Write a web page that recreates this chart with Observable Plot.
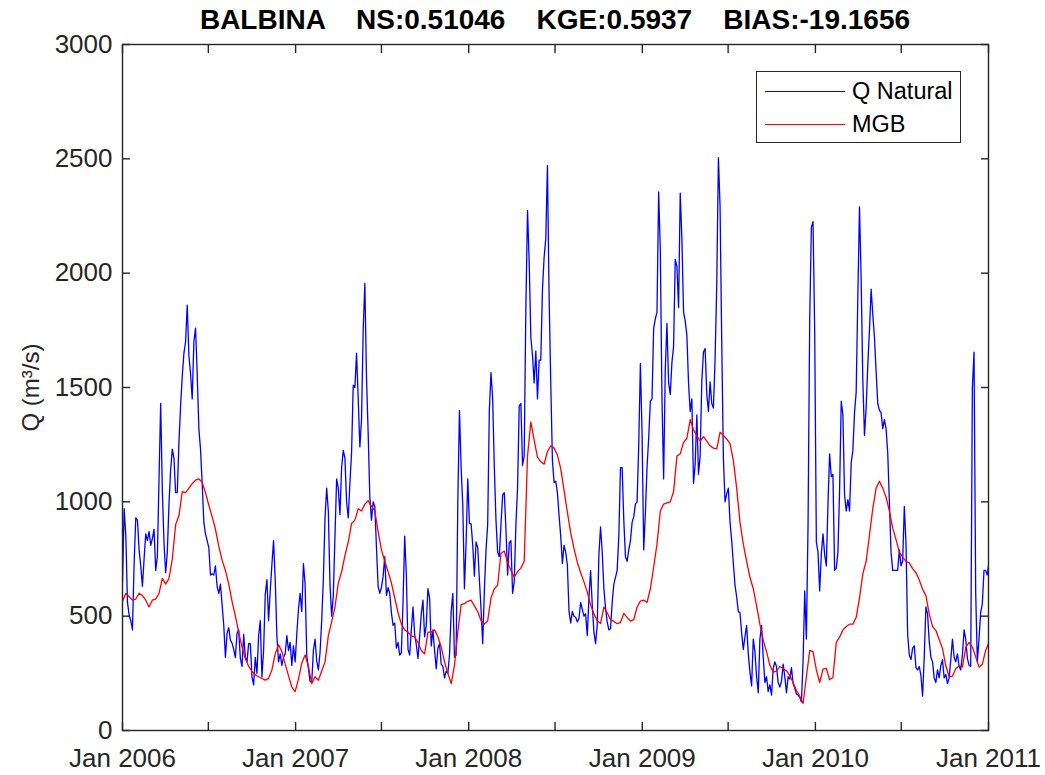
<!DOCTYPE html>
<html>
<head>
<meta charset="utf-8">
<script src="https://cdn.jsdelivr.net/npm/d3@7"></script>
<script src="https://cdn.jsdelivr.net/npm/@observablehq/plot@0.6"></script>
<style>
  html, body { margin: 0; padding: 0; background: #ffffff; }
  #wrap { position: relative; width: 1045px; height: 775px; font-family: "Liberation Sans", Arial, sans-serif; color: #262626; }
  #title { position: absolute; left: 122px; width: 866px; top: 4px; text-align: center; font-weight: bold; font-size: 28px; color: #000; white-space: pre; line-height: 32px; }
  #legend { position: absolute; left: 756px; top: 71px; width: 205px; height: 72px; border: 1px solid #262626; background: #fff; box-sizing: border-box; }
  .row { position: absolute; left: 8px; height: 30px; display: flex; align-items: center; font-size: 23.5px; color: #000; }
  .sw { width: 80px; height: 0; border-top: 1.4px solid; margin-right: 7px; }
</style>
</head>
<body>
<div id="wrap">
  <div id="chart"></div>
  <div id="title"></div>
  <div id="legend"></div>
</div>
<script>
// ---- data ----
const startDate = "2006-01-01";
const stepDaysQ = 3.5;   // Q Natural sampled every half week
const stepDaysM = 7;     // MGB sampled weekly
const seriesNames = ["Q Natural", "MGB"];
const seriesColors = ["#0000ff", "#ff0000"];
const titleText = "BALBINA    NS:0.51046    KGE:0.5937    BIAS:-19.1656";
const yLabel = "Q (m³/s)";
const yTicks = [0, 500, 1000, 1500, 2000, 2500, 3000];
const xTickDates = ["2006-01-01","2006-07-01","2007-01-01","2007-07-01","2008-01-01","2008-07-01","2009-01-01","2009-07-01","2010-01-01","2010-07-01","2011-01-01"];
const xTickLabels = ["Jan 2006","","Jan 2007","","Jan 2008","","Jan 2009","","Jan 2010","","Jan 2011"];

const qNatural = [
  650, 970, 850, 560, 505, 480, 440, 730, 930, 920,
  790, 720, 630, 750, 860, 830, 870, 810, 840, 880,
  700, 760, 1100, 1430, 1050, 820, 690, 780, 990, 1140,
  1230, 1190, 1040, 1040, 1260, 1420, 1550, 1650, 1700, 1860,
  1640, 1560, 1450, 1700, 1760, 1560, 1320, 1230, 1080, 910,
  860, 830, 800, 680, 685, 680, 720, 630, 600, 640,
  550, 460, 320, 425, 450, 395, 382, 355, 320, 425,
  440, 315, 280, 420, 320, 300, 380, 380, 235, 200,
  320, 250, 415, 480, 235, 350, 595, 660, 480, 610,
  725, 830, 660, 415, 300, 335, 285, 320, 335, 415,
  350, 385, 285, 370, 300, 420, 530, 600, 520, 730,
  640, 330, 270, 215, 210, 350, 400, 305, 265, 340,
  480, 660, 930, 1060, 960, 640, 500, 590, 850, 1100,
  1060, 945, 1150, 1225, 1190, 1000, 930, 1080, 1215, 1510,
  1500, 1650, 1450, 1240, 1360, 1750, 1955, 1540, 1300, 1020,
  920, 1000, 980, 800, 630, 600, 625, 675, 760, 590,
  625, 600, 515, 460, 470, 360, 385, 330, 340, 560,
  850, 680, 355, 330, 440, 540, 420, 375, 315, 410,
  510, 570, 410, 460, 620, 580, 370, 440, 350, 270,
  360, 380, 290, 280, 230, 260, 250, 330, 520, 600,
  320, 330, 1000, 1400, 1150, 985, 620, 820, 1100, 905,
  905, 810, 675, 825, 800, 660, 530, 380, 610, 790,
  900, 1400, 1565, 1450, 1150, 920, 780, 760, 900, 1030,
  1040, 880, 680, 820, 830, 600, 650, 900, 1060, 1420,
  1430, 1160, 1200, 1850, 2275, 2050, 1720, 1640, 1520, 1660,
  1450, 1620, 1620, 1930, 2070, 2150, 2470, 1900, 1520, 1180,
  1085, 1090, 1040, 940, 850, 730, 810, 780, 725, 520,
  470, 520, 500, 495, 475, 490, 560, 530, 500, 510,
  415, 580, 700, 550, 430, 380, 460, 770, 890, 780,
  620, 535, 475, 440, 445, 560, 640, 670, 700, 850,
  1150, 1150, 920, 760, 740, 790, 830, 910, 935, 990,
  1000, 1250, 1605, 1300, 790, 950, 1150, 1280, 1440, 1450,
  1760, 1800, 1830, 2355, 2100, 1450, 1100, 1580, 1780, 1520,
  1470, 1610, 1680, 2060, 2030, 1850, 2350, 2150, 1830, 1790,
  1730, 1520, 1395, 1450, 1080, 1165, 1380, 1120, 1200, 1530,
  1655, 1670, 1470, 1395, 1525, 1430, 1410, 1625, 1950, 2505,
  2290, 1700, 1190, 1000, 1035, 1060, 910, 830, 730, 635,
  585, 520, 515, 425, 355, 410, 460, 335, 255, 195,
  400, 345, 235, 165, 400, 460, 320, 210, 235, 170,
  200, 155, 270, 300, 280, 210, 190, 215, 290, 235,
  165, 235, 225, 275, 205, 185, 160, 155, 145, 125,
  300, 610, 400, 900, 1800, 2200, 2225, 1750, 825, 780,
  610, 770, 860, 770, 720, 990, 1210, 1110, 1120, 700,
  710, 780, 1050, 1440, 1380, 1030, 960, 1010, 960, 1170,
  1225, 1390, 1480, 1900, 2290, 1970, 1530, 1290, 1410, 1600,
  1750, 1930, 1820, 1720, 1570, 1430, 1400, 1390, 1320, 1360,
  1320, 1215, 1000, 780, 700, 700, 700, 700, 790, 720,
  740, 980, 820, 420, 330, 310, 360, 370, 275, 265,
  280, 240, 150, 320, 540, 510, 390, 320, 300, 230,
  210, 265, 230, 285, 310, 230, 245, 205, 230, 310,
  400, 320, 300, 335, 280, 265, 330, 440, 400, 315,
  285, 280, 1500, 1655, 600, 300, 400, 515, 555, 700,
  700, 680, 740
];

const mgb = [
  565, 600, 585, 570, 575, 600, 590, 570, 540, 570,
  575, 600, 665, 640, 665, 750, 900, 940, 1045, 1040,
  1060, 1080, 1095, 1100, 1085, 1040, 985, 935, 880, 805,
  745, 700, 640, 565, 500, 430, 365, 315, 280, 258,
  243, 235, 228, 220, 228, 265, 335, 375, 345, 290,
  240, 190,
  170, 225, 295, 330, 280, 205, 235, 220, 260, 300,
  415, 475, 540, 645, 695, 765, 825, 905, 920, 970,
  960, 990, 1005, 980, 960, 870, 790, 740, 695, 645,
  580, 515, 465, 440, 430, 415, 408, 385, 350, 335,
  430, 430, 440, 410, 365, 300, 250, 205, 285, 430,
  550, 555,
  565, 570, 545, 520, 480, 465, 480, 580, 620, 635,
  775, 785, 735, 700, 670, 695, 710, 740, 1200, 1350,
  1270, 1195, 1175, 1165, 1220, 1245, 1235, 1205, 1145, 1050,
  955, 865, 795, 735, 690, 650, 605, 550, 510, 480,
  468, 540, 515, 485, 477, 467, 472, 512, 495, 478,
  485, 540,
  566, 570, 560, 620, 715, 815, 960, 990, 995, 1000,
  1045, 1200, 1210, 1260, 1278, 1360, 1315, 1290, 1265, 1285,
  1265, 1245, 1235, 1232, 1305, 1290, 1275, 1255, 1180, 1060,
  910, 815, 740, 670, 620, 545, 465, 395, 345, 285,
  255, 260, 280, 270, 262, 240, 210, 175, 150, 118,
  235, 350,
  345, 265, 210, 268, 272, 222, 232, 385, 408, 440,
  455, 465, 465, 495, 580, 685, 740, 855, 970, 1060,
  1090, 1060, 1020, 960, 885, 835, 780, 758, 740, 733,
  708, 690, 658, 618, 590, 510, 455, 438, 398, 358,
  283, 235, 238, 270, 283, 278, 363, 385, 365, 322,
  277, 290, 350, 385
];

// ---- build tables ----
const t0 = new Date(startDate + "T00:00:00Z").getTime();
const dayMs = 864e5;
const rowsQ = qNatural.map((v, i) => ({date: new Date(t0 + i * stepDaysQ * dayMs), value: v}));
const rowsM = mgb.map((v, i) => ({date: new Date(t0 + i * stepDaysM * dayMs), value: v}));
const xTicks = xTickDates.map(s => new Date(s + "T00:00:00Z"));
const labelMap = new Map(xTicks.map((d, i) => [d.getTime(), xTickLabels[i]]));
const axisColor = "#262626";

const chart = Plot.plot({
  width: 1045,
  height: 775,
  marginLeft: 122,
  marginRight: 57,
  marginTop: 44,
  marginBottom: 45,
  style: {fontFamily: "'Liberation Sans', Arial, sans-serif", fontSize: "26px", color: axisColor, background: "#fff", overflow: "visible"},
  x: {type: "utc", domain: [xTicks[0], xTicks[xTicks.length - 1]]},
  y: {domain: [0, 3000]},
  marks: [
    Plot.lineY(rowsQ, {x: "date", y: "value", stroke: seriesColors[0], strokeWidth: 1.3, clip: true}),
    Plot.lineY(rowsM, {x: "date", y: "value", stroke: seriesColors[1], strokeWidth: 1.3, clip: true}),
    Plot.frame({stroke: axisColor, strokeWidth: 1.4}),
    Plot.axisY(yTicks, {anchor: "left", tickSize: -8, tickPadding: 18, stroke: axisColor, fill: axisColor, strokeWidth: 1.4, fontSize: 26, label: null, tickFormat: d => String(d)}),
    Plot.axisY(yTicks, {anchor: "right", tickSize: -8, stroke: axisColor, fill: "none", strokeWidth: 1.4, label: null}),
    Plot.axisX(xTicks, {anchor: "bottom", tickSize: -8, tickPadding: 26, stroke: axisColor, fill: axisColor, strokeWidth: 1.4, fontSize: 26, label: null, tickFormat: d => labelMap.get(d.getTime()) ?? ""}),
    Plot.axisX(xTicks, {anchor: "top", tickSize: -8, stroke: axisColor, fill: "none", strokeWidth: 1.4, label: null}),
    Plot.text([yLabel], {text: d => d, frameAnchor: "left", textAnchor: "middle", dx: -91, rotate: -90, fontSize: 24, fill: axisColor})
  ]
});
document.getElementById("chart").appendChild(chart);

document.getElementById("title").textContent = titleText;

const legend = document.getElementById("legend");
seriesNames.forEach((name, i) => {
  const row = document.createElement("div");
  row.className = "row";
  row.style.top = (4 + i * 33) + "px";
  const sw = document.createElement("div");
  sw.className = "sw";
  sw.style.borderTopColor = seriesColors[i];
  const tx = document.createElement("span");
  tx.textContent = name;
  row.appendChild(sw);
  row.appendChild(tx);
  legend.appendChild(row);
});
</script>
</body>
</html>
